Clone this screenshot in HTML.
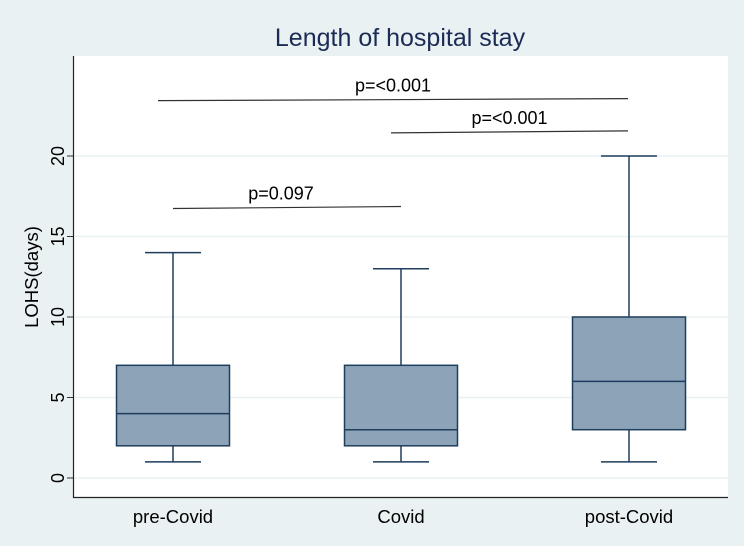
<!DOCTYPE html>
<html><head><meta charset="utf-8"><style>
html,body{margin:0;padding:0;background:#fff}
svg{display:block;font-family:"Liberation Sans",sans-serif}
</style></head><body>
<svg id="chart" width="744" height="550">
<rect x="0" y="0" width="744" height="546" fill="#eaf1f3"/>
<rect x="73" y="56" width="655" height="441" fill="#fff"/>
<text x="400" y="46" text-anchor="middle" font-size="25" fill="#1c2b55">Length of hospital stay</text>
<text transform="translate(38,277) rotate(-90)" text-anchor="middle" font-size="18.5" fill="#000">LOHS(days)</text>
<g id="grid"></g><g id="axes"></g><g id="boxes"></g><g id="annots"></g>
</svg>
<script>
const categories=["pre-Covid","Covid","post-Covid"];
const mins=[1,1,1];
const q1s=[2,2,3];
const medians=[4,3,6];
const q3s=[7,7,10];
const maxs=[14,13,20];
const yTicks=[0,5,10,15,20];
const pLabels=["p=0.097","p=<0.001","p=<0.001"];
const pFrom=[0,1,0];
const pTo=[1,2,2];
const pLevel=[16.8,21.5,23.5];
const NS="http://www.w3.org/2000/svg";
const svg=document.getElementById('chart');
const y=v=>478-v*16.1;
const x=i=>173+i*228;
function mk(tag,attrs,parent){const e=document.createElementNS(NS,tag);for(const k in attrs)e.setAttribute(k,attrs[k]);document.getElementById(parent).appendChild(e);return e;}
yTicks.forEach(t=>{
 let g=mk('line',{x1:73,x2:728,y1:y(t),y2:y(t),stroke:'#eaf1f3','stroke-width':1.5},'grid');
 
 
 let tk=mk('line',{x1:67,x2:73,y1:y(t),y2:y(t),stroke:'#333','stroke-width':1},'axes');
 
 
 let tl=mk('text',{transform:`translate(64,${y(t)}) rotate(-90)`,'text-anchor':'middle','font-size':18,fill:'#000'},'axes');
 tl.textContent=t;
 
 
});
let ax=mk('path',{d:'M73.5 56 V497.5 H728',fill:'none',stroke:'#222','stroke-width':1.2},'axes');


const C='#1f3d5c';
categories.forEach((c,i)=>{
 const cx=x(i);
 let w1=mk('path',{d:`M${cx} ${y(q3s[i])} V${y(maxs[i])} M${cx-28} ${y(maxs[i])} H${cx+28} M${cx} ${y(q1s[i])} V${y(mins[i])} M${cx-28} ${y(mins[i])} H${cx+28}`,stroke:C,'stroke-width':1.5,fill:'none'},'boxes');
 
 
 let b=mk('rect',{x:cx-56.5,y:y(q3s[i]),width:113,height:y(q1s[i])-y(q3s[i]),fill:'#8ca3b8',stroke:C,'stroke-width':1.5},'boxes');
 
 
 let m=mk('line',{x1:cx-56.5,x2:cx+56.5,y1:y(medians[i]),y2:y(medians[i]),stroke:C,'stroke-width':1.5},'boxes');
 
 
 let l=mk('text',{x:cx,y:523,'text-anchor':'middle','font-size':18.5,fill:'#000'},'axes');
 l.textContent=c;
 
 
});
pLabels.forEach((p,i)=>{
 const x1=x(pFrom[i])-(i==0?0:(i==1?10:15)), x2=x(pTo[i])-(i==0?0:1);
 const yy=y(pLevel[i]);
 let ln=mk('line',{x1:x1,x2:x2,y1:yy+1,y2:yy-1,stroke:'#333','stroke-width':1.2},'annots');
 
 
 let t=mk('text',{x:(x1+x2)/2+(i==0?-6:0),y:yy-8,'text-anchor':'middle','font-size':18,fill:'#000'},'annots');
 t.textContent=p;
 
 
});
</script>
</body></html>
